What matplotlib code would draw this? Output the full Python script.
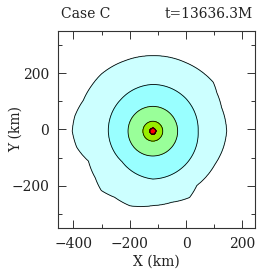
import numpy as np
import matplotlib
matplotlib.use("Agg")
import matplotlib.pyplot as plt

# centre of the blob (km)
x0, y0 = -118.0, -6.0

# outer boundary radius (km), by angle (deg)
outer_ang = [0, 19, 31, 39, 65, 90, 112, 132, 143, 156, 169, 180, 192, 205,
             219, 229, 240, 253, 270, 285, 299, 309, 332, 347]
outer_rad = [262, 258, 265, 276, 270, 268, 269, 273, 271, 270, 282, 286, 276, 252,
             263, 279, 271, 277, 264, 261, 269, 248, 250, 257]

# second contour (cyan) radius by angle
cyan_ang = [0, 45, 90, 135, 180, 225, 270, 315]
cyan_rad = [161, 165, 166, 160, 158, 154, 170, 166]

# inner contours, roughly circular (km)
inner_rad = [5, 11, 35, 88]

colors = ['#ccffff', '#99ffff', '#99ff99', '#99ee00', '#880000', '#ff0000']

# grid
x = np.linspace(-460, 250, 400)
y = np.linspace(-355, 355, 400)
X, Y = np.meshgrid(x, y)
R = np.hypot(X - x0, Y - y0)
T = np.degrees(np.arctan2(Y - y0, X - x0)) % 360

Ro = np.interp(T, outer_ang, outer_rad, period=360)
Rc = np.interp(T, cyan_ang, cyan_rad, period=360)

bounds = [np.zeros_like(R)] + [np.full_like(R, r) for r in inner_rad] + [Rc, Ro, np.full_like(R, 2000)]
vals = [6, 5, 4, 3, 2, 1, 0, -5]
F = np.full_like(R, -5.0)
for i in range(len(bounds) - 1):
    m = (R >= bounds[i]) & (R < bounds[i + 1])
    F[m] = vals[i] + (R[m] - bounds[i][m]) / (bounds[i + 1][m] - bounds[i][m]) * (vals[i + 1] - vals[i])

fig = plt.figure(figsize=(2.7, 2.7), dpi=100)
ax = fig.add_axes([0.2148, 0.1556, 0.7296, 0.7296])

ax.contourf(X, Y, F, levels=[0, 1, 2, 3, 4, 5, 7], colors=colors)
ax.contour(X, Y, F, levels=[0, 1, 2, 3, 4], colors='k', linewidths=0.6)

ax.set_xlim(-455, 245)
ax.set_ylim(-350, 350)
ax.set_aspect('equal')

ax.set_xticks([-400, -200, 0, 200])
ax.set_yticks([-200, 0, 200])
ax.set_xticks([-300, -100, 100], minor=True)
ax.set_yticks([-300, -100, 100, 300], minor=True)
ax.tick_params(which='both', direction='in', top=True, right=True, width=0.7, colors='#333333',
               labelcolor='#222222', labelsize=10)
ax.tick_params(which='major', length=5.5, pad=6.5)
ax.tick_params(which='minor', length=3)
for lab in ax.get_xticklabels() + ax.get_yticklabels():
    lab.set_family('DejaVu Serif')
for s in ax.spines.values():
    s.set_linewidth(0.8)
    s.set_color('#333333')

ax.set_xlabel('X (km)', family='DejaVu Serif', fontsize=10, color='#222222')
ax.set_ylabel('Y (km)', family='DejaVu Serif', fontsize=10, color='#222222')
ax.xaxis.set_label_coords(0.5, -0.135)
ax.yaxis.set_label_coords(-0.18, 0.5)

ax.text(0.015, 1.066, 'Case C', transform=ax.transAxes, ha='left', va='baseline',
        family='DejaVu Serif', fontsize=10, color='#222222')
ax.text(0.988, 1.066, 't=13636.3M', transform=ax.transAxes, ha='right', va='baseline',
        family='DejaVu Serif', fontsize=10, color='#222222')

fig.savefig('out.png', dpi=100)
